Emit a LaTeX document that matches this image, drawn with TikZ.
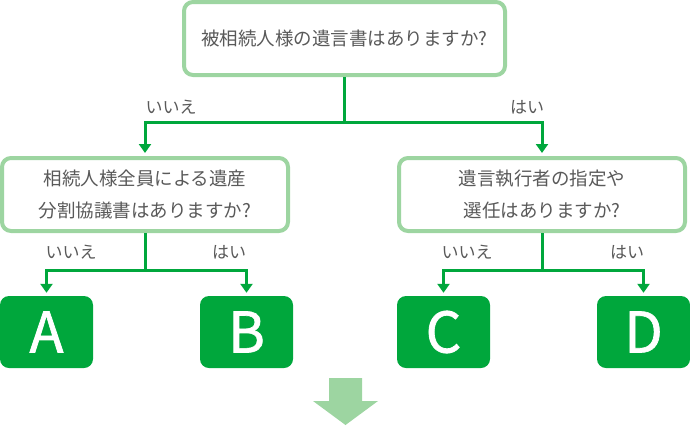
\documentclass[tikz,border=0pt]{standalone}
\usepackage{fontspec}
\setmainfont{Noto Sans CJK JP}
\newfontfamily\letterfont[FakeBold=1.2]{Noto Sans CJK JP}
\usetikzlibrary{arrows.meta}
\definecolor{dgreen}{HTML}{00A73C}
\definecolor{lgreen}{HTML}{9DD5A1}
\definecolor{txt}{HTML}{595959}
\tikzset{
  qbox/.style={draw=lgreen, line width=4pt, rounded corners=9pt, fill=white,
    text=txt, font=\fontsize{18.5pt}{32pt}\selectfont, align=center, inner sep=0pt},
  abox/.style={fill=dgreen, rounded corners=9pt, text=white,
    font=\letterfont\fontsize{56pt}{56pt}\selectfont, minimum width=93pt, minimum height=72pt, inner sep=0pt},
  lab/.style={text=txt, font=\fontsize{17pt}{17pt}\selectfont, inner sep=0pt},
  conn/.style={draw=dgreen, line width=3pt},
  arr/.style={conn, -{Triangle[width=12pt,length=9pt]}, shorten >=3pt}
}
\begin{document}
\begin{tikzpicture}[x=1pt,y=-1pt]
\useasboundingbox (0,0) rectangle (690,426);
\node[qbox, minimum width=321pt, minimum height=73pt] (top) at (344.5,38.5) {被相続人様の遺言書はありますか?};
\node[qbox, minimum width=286pt, minimum height=73pt] (left) at (145,194.5) {相続人様全員による遺産\\分割協議書はありますか?};
\node[qbox, minimum width=286pt, minimum height=73pt] (right) at (542,194.5) {遺言執行者の指定や\\選任はありますか?};
\node[abox] (A) at (46.5,332) {A};
\node[abox] (B) at (246.5,332) {B};
\node[abox] (C) at (443.5,332) {C};
\node[abox] (D) at (643.5,332) {D};
\coordinate (j1) at (344.5,122);
\coordinate (j2) at (145,270);
\coordinate (j3) at (542,270);
\draw[conn] (top.south) -- (j1);
\draw[arr] (j1) -| (left.north);
\draw[arr] (j1) -| (right.north);
\draw[conn] (left.south) -- (j2);
\draw[arr] (j2) -| (A.north);
\draw[arr] (j2) -| (B.north);
\draw[conn] (right.south) -- (j3);
\draw[arr] (j3) -| (C.north);
\draw[arr] (j3) -| (D.north);
\node[lab] (l1) at (171,107) {いいえ};
\node[lab] (l2) at (527,107) {はい};
\node[lab] (l3) at (71,252) {いいえ};
\node[lab] (l4) at (229,252) {はい};
\node[lab] (l5) at (467,252) {いいえ};
\node[lab] (l6) at (627,252) {はい};
\fill[lgreen] (329,378) -- (362,378) -- (362,401) -- (378,401) -- (345.5,425) -- (313,401) -- (329,401) -- cycle;
\end{tikzpicture}
\end{document}
